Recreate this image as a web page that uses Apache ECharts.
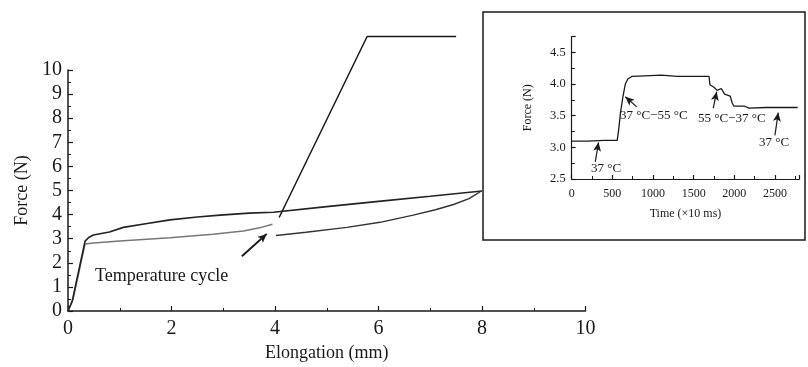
<!DOCTYPE html>
<html>
<head>
<meta charset="utf-8">
<script src="https://cdn.jsdelivr.net/npm/echarts@6/dist/echarts.min.js"></script>
<style>
  html, body { margin: 0; padding: 0; background: #fff; }
  #main { width: 808px; height: 367px; }
</style>
</head>
<body>
<div id="main"></div>
<script>
// main plot: elongation (mm) vs force (N)
var loadCurve = [[0, 0], [0.08, 0.4], [0.17, 1.3], [0.26, 2.2], [0.33, 2.9], [0.4, 3.05], [0.49, 3.15],
  [0.8, 3.28], [1.07, 3.47], [1.5, 3.62], [1.97, 3.78], [2.5, 3.9], [2.94, 3.98], [3.5, 4.06], [3.97, 4.1],
  [5, 4.33], [6, 4.55], [7, 4.76], [8, 4.98]];
var grayCurve = [[0, 0], [0.1, 0.5], [0.18, 1.3], [0.27, 2.2], [0.33, 2.78], [0.49, 2.82], [1.0, 2.9],
  [1.97, 3.04], [2.8, 3.18], [3.39, 3.32], [3.7, 3.45], [3.95, 3.6]];
var returnCurve = [[4.02, 3.13], [4.6, 3.27], [5.39, 3.47], [6.03, 3.68], [6.67, 3.98], [7.1, 4.2],
  [7.45, 4.42], [7.75, 4.66], [7.98, 4.97]];
var leaderLine = [[4.08, 3.88], [5.78, 11.39], [7.5, 11.39]];

// inset: time (x10 ms) vs force (N)
var insetForce = [[0, 3.1], [200, 3.1], [400, 3.11], [560, 3.11], [580, 3.3], [600, 3.55], [630, 3.8],
  [660, 4.0], [690, 4.08], [740, 4.12], [900, 4.13], [1100, 4.14], [1300, 4.12], [1500, 4.12],
  [1690, 4.12], [1700, 3.99], [1750, 3.95], [1790, 3.9], [1840, 3.93], [1880, 3.84], [1950, 3.81],
  [1975, 3.7], [1995, 3.65], [2130, 3.65], [2180, 3.62], [2400, 3.63], [2780, 3.63]];

var mainXTicks = { min: 0, max: 10, interval: 2 };
var mainYTicks = { min: 0, max: 10, interval: 1 };
var insetXTicks = { min: 0, max: 2800, interval: 500 };
var insetYTicks = { min: 2.5, max: 4.75, interval: 0.5 };

var serif = 'Liberation Serif';
var ink = '#1a1a1a';

function axisBase(fontSize) {
  return {
    axisLine: { show: true, onZero: false, lineStyle: { color: ink, width: 1.5 } },
    axisTick: { show: true, inside: true, length: 5, lineStyle: { color: ink, width: 1.2 } },
    minorTick: { show: true, splitNumber: 2, length: 3, lineStyle: { color: ink, width: 1 } },
    splitLine: { show: false },
    axisLabel: { color: ink, fontFamily: serif, fontSize: fontSize },
    nameTextStyle: { color: ink, fontFamily: serif }
  };
}

function arrow(from, to) {
  return [{ coord: from, symbol: 'none' }, { coord: to, symbol: 'arrow', symbolSize: [6, 9] }];
}

var chart = echarts.init(document.getElementById('main'), null, { renderer: 'canvas' });

var xMain = axisBase(20);
Object.assign(xMain, mainXTicks, { type: 'value', gridIndex: 0, name: 'Elongation (mm)', nameLocation: 'middle', nameGap: 33 });
xMain.axisLabel.margin = 8;
xMain.nameTextStyle.fontSize = 18;

var yMain = axisBase(20);
Object.assign(yMain, mainYTicks, { type: 'value', gridIndex: 0, name: 'Force (N)', nameLocation: 'middle', nameGap: 36 });
yMain.axisLabel.margin = 6;
yMain.nameTextStyle.fontSize = 18;

var xIn = axisBase(12);
Object.assign(xIn, insetXTicks, { type: 'value', gridIndex: 1, name: 'Time (×10 ms)', nameLocation: 'middle', nameGap: 29 });
xIn.axisLabel.margin = 9;
xIn.axisLabel.showMaxLabel = false;
xIn.axisLabel.formatter = function (v) { return String(v); };
xIn.axisLine.lineStyle.width = 1.2;
xIn.axisTick.length = 4;
xIn.nameTextStyle.fontSize = 12;

var yIn = axisBase(12.5);
Object.assign(yIn, insetYTicks, { type: 'value', gridIndex: 1, name: 'Force (N)', nameLocation: 'middle', nameGap: 38 });
yIn.axisLabel.margin = 6;
yIn.axisLabel.showMaxLabel = false;
yIn.axisLabel.formatter = function (v) { return v.toFixed(1); };
yIn.axisLine.lineStyle.width = 1.2;
yIn.axisTick.length = 4;
yIn.nameTextStyle.fontSize = 12;

var annText = { fontFamily: serif, fontSize: 13, fill: ink };

chart.setOption({
  animation: false,
  backgroundColor: '#fff',
  grid: [
    { left: 68, top: 70, width: 517.5, height: 245 },
    { left: 571.7, top: 36.6, width: 227.6, height: 142.4 }
  ],
  xAxis: [xMain, xIn],
  yAxis: [yMain, yIn],
  graphic: [
    { type: 'rect', shape: { x: 483, y: 12, width: 322, height: 228 }, style: { fill: 'rgba(255,255,255,0)', stroke: ink, lineWidth: 1.5 }, z: 10 },
    { type: 'text', left: 95, top: 267, style: { text: 'Temperature cycle', fontFamily: serif, fontSize: 18, fill: ink } },
    { type: 'text', left: 591, top: 162, style: Object.assign({ text: '37 °C' }, annText) },
    { type: 'text', left: 620, top: 109, style: Object.assign({ text: '37 °C−55 °C' }, annText) },
    { type: 'text', left: 698, top: 112, style: Object.assign({ text: '55 °C−37 °C' }, annText) },
    { type: 'text', left: 759, top: 136, style: Object.assign({ text: '37 °C' }, annText) }
  ],
  series: [
    {
      type: 'line', xAxisIndex: 0, yAxisIndex: 0, data: grayCurve, showSymbol: false,
      lineStyle: { color: '#777', width: 1.5 }
    },
    {
      type: 'line', xAxisIndex: 0, yAxisIndex: 0, data: loadCurve, showSymbol: false,
      lineStyle: { color: '#222', width: 1.6 }
    },
    {
      type: 'line', xAxisIndex: 0, yAxisIndex: 0, data: returnCurve, showSymbol: false,
      lineStyle: { color: '#333', width: 1.4 },
      markLine: {
        silent: true, label: { show: false }, animation: false,
        lineStyle: { color: ink, width: 2, type: 'solid' },
        data: [arrow([3.36, 2.27], [3.84, 3.2])]
      }
    },
    {
      type: 'line', xAxisIndex: 0, yAxisIndex: 0, data: leaderLine, showSymbol: false, clip: false,
      lineStyle: { color: ink, width: 1.5 }
    },
    {
      type: 'line', xAxisIndex: 1, yAxisIndex: 1, data: insetForce, showSymbol: false,
      lineStyle: { color: ink, width: 1.3 },
      markLine: {
        silent: true, label: { show: false }, animation: false,
        lineStyle: { color: ink, width: 1.2, type: 'solid' },
        data: [
          arrow([290, 2.77], [330, 3.08]),
          arrow([800, 3.64], [660, 3.8]),
          arrow([1742, 3.62], [1783, 3.88]),
          arrow([2500, 3.19], [2541, 3.55])
        ]
      }
    }
  ]
});
</script>
</body>
</html>
